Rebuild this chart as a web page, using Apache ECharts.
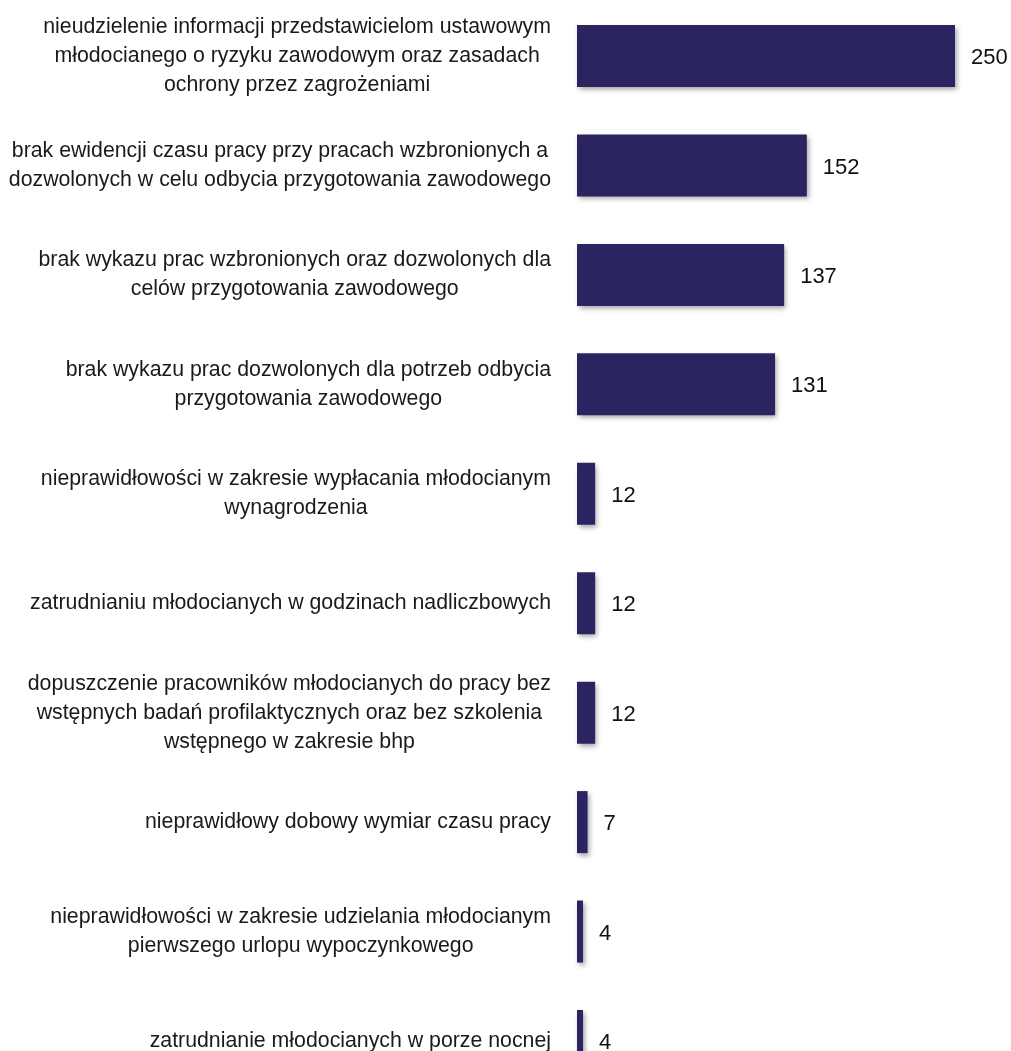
<!DOCTYPE html>
<html>
<head>
<meta charset="utf-8">
<script src="https://cdn.jsdelivr.net/npm/echarts@6/dist/echarts.min.js"></script>
<style>html,body{margin:0;padding:0;background:#fff;}#chart{width:1011px;height:1051px;}</style>
</head>
<body>
<div id="chart"></div>
<script>
const categories = [
  "nieudzielenie informacji przedstawicielom ustawowym\nmłodocianego o ryzyku zawodowym oraz zasadach\nochrony przez zagrożeniami",
  "brak ewidencji czasu pracy przy pracach wzbronionych a\ndozwolonych w celu odbycia przygotowania zawodowego",
  "brak wykazu prac wzbronionych oraz dozwolonych dla\ncelów przygotowania zawodowego",
  "brak wykazu prac dozwolonych dla potrzeb odbycia\nprzygotowania zawodowego",
  "nieprawidłowości w zakresie wypłacania młodocianym\nwynagrodzenia",
  "zatrudnianiu młodocianych w godzinach nadliczbowych",
  "dopuszczenie pracowników młodocianych do pracy bez\nwstępnych badań profilaktycznych oraz bez szkolenia\nwstępnego w zakresie bhp",
  "nieprawidłowy dobowy wymiar czasu pracy",
  "nieprawidłowości w zakresie udzielania młodocianym\npierwszego urlopu wypoczynkowego",
  "zatrudnianie młodocianych w porze nocnej"
];
const values = [250, 152, 137, 131, 12, 12, 12, 7, 4, 4];

const chart = echarts.init(document.getElementById('chart'));
chart.setOption({
  animation: false,
  backgroundColor: '#ffffff',
  grid: { left: 577, width: 378, top: 1.3, height: 1094.4, containLabel: false, outerBoundsMode: 'none' },
  xAxis: { type: 'value', min: 0, max: 250, show: false },
  yAxis: {
    type: 'category', data: categories, inverse: true,
    axisLine: { show: false }, axisTick: { show: false }, splitLine: { show: false },
    axisLabel: {
      margin: 26,
      fontFamily: 'Liberation Sans, Arial, sans-serif',
      fontSize: 21.3, color: '#1a1a1a', lineHeight: 29,
      formatter: function (v) {
        return v.split('\n').map(function (l) { return '{c|' + l + '}'; }).join('\n');
      },
      rich: { c: { align: 'center', fontSize: 21.3, lineHeight: 29, color: '#1a1a1a', fontFamily: 'Liberation Sans, Arial, sans-serif' } }
    }
  },
  series: [{
    type: 'bar', data: values, barWidth: 62,
    itemStyle: { color: '#2a2560', shadowColor: 'rgba(0,0,0,0.35)', shadowBlur: 5, shadowOffsetX: 2, shadowOffsetY: 3 },
    label: { show: true, position: 'right', distance: 16, offset: [0, 2], fontSize: 22, color: '#111', fontFamily: 'Liberation Sans, Arial, sans-serif' }
  }]
});
</script>
</body>
</html>
